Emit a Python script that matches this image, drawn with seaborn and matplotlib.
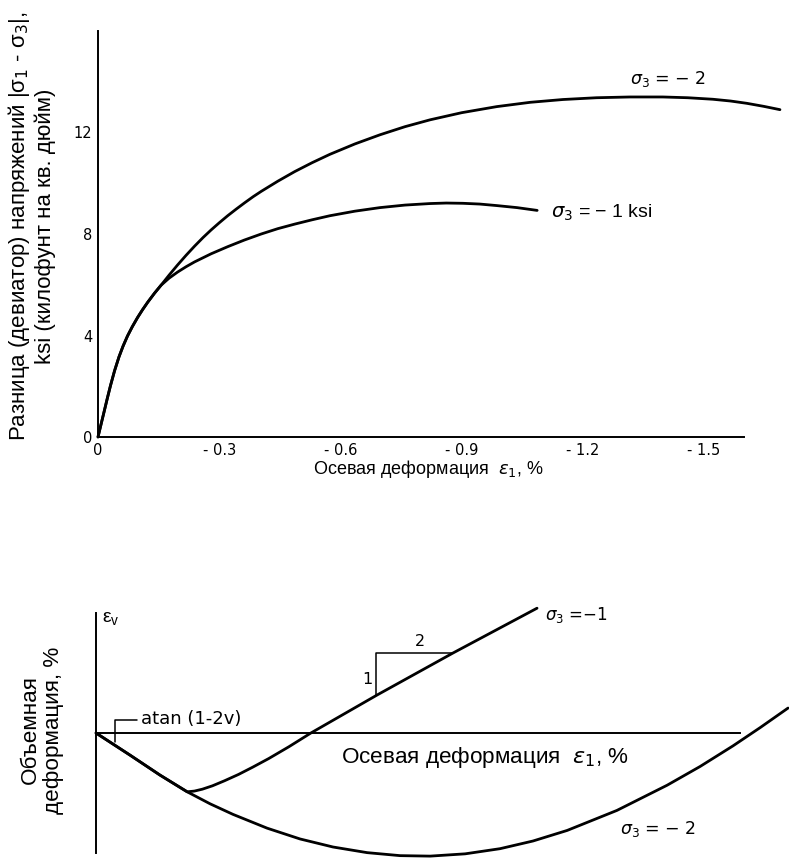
import numpy as np
import pandas as pd
import matplotlib
matplotlib.use("Agg")
import matplotlib.pyplot as plt
import seaborn as sns

# ---------------- data (top: deviator stress vs axial strain) ----------------
strain_s2 = [0, -0.008, -0.015, -0.023, -0.031, -0.041, -0.052, -0.062, -0.073, -0.085,
             -0.098, -0.110, -0.123, -0.140, -0.156, -0.176, -0.197, -0.218, -0.239,
             -0.260, -0.280, -0.300, -0.321, -0.342, -0.363, -0.384, -0.404, -0.445,
             -0.487, -0.530, -0.574, -0.636, -0.698, -0.760, -0.822, -0.900, -0.987,
             -1.070, -1.151, -1.234, -1.317, -1.398, -1.460, -1.522, -1.566, -1.606,
             -1.648, -1.688]
stress_s2 = [0, 0.53, 0.99, 1.52, 2.03, 2.61, 3.16, 3.58, 3.98, 4.35,
             4.71, 5.01, 5.31, 5.67, 5.98, 6.38, 6.78, 7.16, 7.52,
             7.86, 8.16, 8.44, 8.72, 8.98, 9.23, 9.47, 9.68, 10.08,
             10.46, 10.81, 11.14, 11.55, 11.91, 12.23, 12.50, 12.78, 13.02,
             13.19, 13.30, 13.37, 13.40, 13.40, 13.37, 13.31, 13.24, 13.15,
             13.03, 12.90]
strain_s1 = [0, -0.008, -0.015, -0.023, -0.031, -0.041, -0.052, -0.062, -0.073, -0.085,
             -0.098, -0.110, -0.123, -0.140, -0.156, -0.176, -0.197, -0.218, -0.239,
             -0.280, -0.321, -0.362, -0.404, -0.445, -0.487, -0.530, -0.574, -0.636,
             -0.698, -0.760, -0.822, -0.862, -0.903, -0.945, -0.987, -1.037, -1.087]
stress_s1 = [0, 0.53, 0.99, 1.52, 2.03, 2.61, 3.16, 3.58, 3.98, 4.35,
             4.71, 5.01, 5.31, 5.67, 5.98, 6.26, 6.50, 6.71, 6.90,
             7.22, 7.50, 7.76, 8.00, 8.21, 8.39, 8.56, 8.72, 8.90,
             9.04, 9.14, 9.20, 9.22, 9.21, 9.18, 9.12, 9.04, 8.93]
x_ticks_top = [0, -0.3, -0.6, -0.9, -1.2, -1.5]
x_ticklabels_top = ["0", "- 0.3", "- 0.6", "- 0.9", "- 1.2", "- 1.5"]
y_ticks_top = [0, 4, 8, 12]
y_ticklabels_top = ["0", "4", "8", "12"]

# ---------------- data (bottom: volumetric strain, schematic) ----------------
ax_strain_v1 = [0, 0.085, 0.159, 0.227, 0.245, 0.265, 0.290, 0.320, 0.355, 0.390,
                0.430, 0.480, 0.535, 0.700, 0.889, 1.098]
vol_v1 = [0, -0.185, -0.350, -0.490, -0.484, -0.468, -0.440, -0.398, -0.345, -0.285,
          -0.213, -0.115, 0.0, 0.317, 0.667, 1.04]
ax_strain_v2 = [0, 0.085, 0.159, 0.227, 0.284, 0.341, 0.426, 0.508, 0.590, 0.675,
                0.757, 0.832, 0.919, 1.006, 1.088, 1.173, 1.297, 1.422, 1.504,
                1.586, 1.654, 1.723]
vol_v2 = [0, -0.185, -0.350, -0.490, -0.590, -0.678, -0.793, -0.883, -0.950, -0.997,
          -1.022, -1.026, -1.007, -0.964, -0.900, -0.812, -0.645, -0.435, -0.279,
          -0.107, 0.046, 0.208]
x_ticks_bot = [0.3, 0.6, 0.9, 1.2, 1.5]

sns.set_theme(style="white")
plt.rcParams["font.family"] = ["Liberation Sans", "DejaVu Sans"]
plt.rcParams["mathtext.fontset"] = "dejavusans"
plt.rcParams["text.color"] = "black"
plt.rcParams["xtick.color"] = "black"
plt.rcParams["ytick.color"] = "black"

W, H = 789, 858
fig = plt.figure(figsize=(W / 100, H / 100), dpi=100)

def px_axes(x0, y0, x1, y1):
    return fig.add_axes([x0 / W, 1 - y1 / H, (x1 - x0) / W, (y1 - y0) / H])

cond = ["DejaVu Sans Condensed", "DejaVu Sans"]
LW = 2.0

# ---------------- top chart ----------------
ax1 = px_axes(98, 31, 789, 437)
df_a = pd.DataFrame({"x": strain_s2, "y": stress_s2})
df_b = pd.DataFrame({"x": strain_s1, "y": stress_s1})
sns.lineplot(data=df_a, x="x", y="y", sort=False, color="black", lw=LW, ax=ax1, clip_on=False)
sns.lineplot(data=df_b, x="x", y="y", sort=False, color="black", lw=LW, ax=ax1, clip_on=False)
ax1.set_xlim(0, -(789 - 98) * 0.3 / 121.2)
ax1.set_ylim(0, 16)
for sp in ["top", "right"]:
    ax1.spines[sp].set_visible(False)
ax1.spines["left"].set_bounds(0, 16)
ax1.spines["bottom"].set_bounds(0, -1.6)
for sp in ["left", "bottom"]:
    ax1.spines[sp].set_color("black")
    ax1.spines[sp].set_linewidth(1.4)
ax1.set_xticks(x_ticks_top)
ax1.set_xticklabels(x_ticklabels_top, family=cond, fontsize=10.5)
ax1.set_yticks(y_ticks_top)
ax1.set_yticklabels(y_ticklabels_top, family=cond, fontsize=10.5)
ax1.tick_params(axis="both", direction="in", length=4, width=1, colors="black", pad=4)
ax1.set_xlabel("")
ax1.set_ylabel("")
ax1.text(-1.317, 14.1, r"$\sigma_3$ = − 2", fontsize=12.5, family=cond, va="center", ha="left")
ax1.text(-1.122, 8.85, r"$\sigma_3$ = − 1 ksi", fontsize=14, va="center", ha="left")

fig.text(31 / W, 1 - 226 / H,
         "Разница (девиатор) напряжений |σ$_1$ - σ$_3$|,\nksi (килофунт на кв. дюйм)",
         rotation=90, ha="center", va="center", fontsize=16, multialignment="center",
         linespacing=1.2)
fig.text(428 / W, 1 - 469 / H, r"Осевая деформация  $\varepsilon_1$, %",
         ha="center", va="center", fontsize=13)

# ---------------- bottom chart ----------------
ax2 = px_axes(96, 603, 789, 858)
s = 0.3 / 120.5
ax2.set_xlim(0, (789 - 96) * s)
ax2.set_ylim((733 - 858) / 120, (733 - 603) / 120)
df_c = pd.DataFrame({"x": ax_strain_v1, "y": vol_v1})
df_d = pd.DataFrame({"x": ax_strain_v2, "y": vol_v2})
sns.lineplot(data=df_c, x="x", y="y", sort=False, color="black", lw=LW, ax=ax2, clip_on=False)
sns.lineplot(data=df_d, x="x", y="y", sort=False, color="black", lw=LW, ax=ax2, clip_on=False)
for sp in ["top", "right"]:
    ax2.spines[sp].set_visible(False)
ax2.spines["left"].set_bounds(-1.0, 1.0)
ax2.spines["bottom"].set_position(("data", 0))
ax2.spines["bottom"].set_bounds(0, (740 - 96) * s)
for sp in ["left", "bottom"]:
    ax2.spines[sp].set_color("black")
    ax2.spines[sp].set_linewidth(1.4)
ax2.set_xticks(x_ticks_bot)
ax2.set_xticklabels([])
ax2.set_yticks([])
ax2.tick_params(axis="x", direction="inout", length=7, width=1, colors="black")
ax2.set_xlabel("")
ax2.set_ylabel("")

# bracket for atan(1-2v)
bx0, bx1 = (115 - 96) * s, (137 - 96) * s
by0, by1 = (733 - 742) / 120, (733 - 720) / 120
ax2.plot([bx0, bx0, bx1], [by0, by1, by1], color="black", lw=1.1)
ax2.text((141 - 96) * s, by1 + 0.01, "atan (1-2v)", family=cond, fontsize=13, va="center", ha="left")
# slope triangle
tx0, tx1 = (376 - 96) * s, (453 - 96) * s
ty0, ty1 = (733 - 695) / 120, (733 - 653) / 120
ax2.plot([tx0, tx0, tx1], [ty0, ty1, ty1], color="black", lw=1.1)
ax2.text((372 - 96) * s, (733 - 680) / 120, "1", family=cond, fontsize=11.5, ha="right", va="center")
ax2.text((420 - 96) * s, (733 - 641) / 120, "2", family=cond, fontsize=11.5, ha="center", va="center")
ax2.text((102 - 96) * s, (733 - 619) / 120, "ε$_\\mathregular{v}$", fontsize=14, ha="left", va="center")
ax2.text((545 - 96) * s, (733 - 615) / 120, r"$\sigma_3$ =−1", fontsize=12, family=cond, ha="left", va="center")
ax2.text((620 - 96) * s, (733 - 829) / 120, r"$\sigma_3$ = − 2", fontsize=12.5, family=cond, ha="left", va="center")

fig.text(485 / W, 1 - 757 / H, r"Осевая деформация  $\varepsilon_1$, %",
         ha="center", va="center", fontsize=16.2)
fig.text(42 / W, 1 - 730 / H, "Объемная\nдеформация, %", rotation=90,
         ha="center", va="center", fontsize=16.2, multialignment="center", linespacing=1.1)

fig.savefig("out.png", dpi=100)
